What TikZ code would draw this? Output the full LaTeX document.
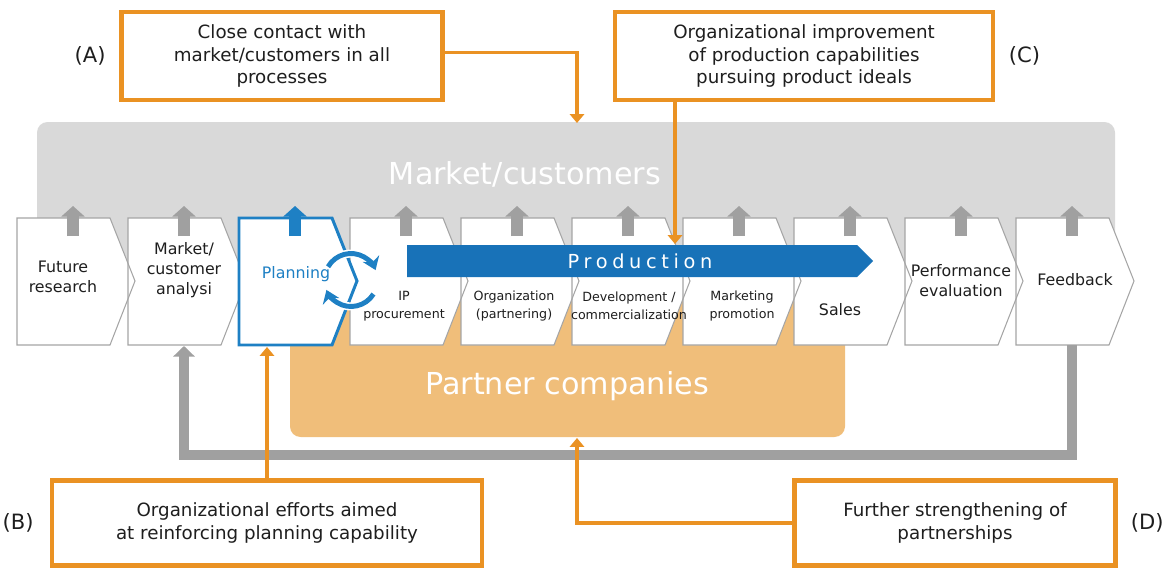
\documentclass[tikz,border=0pt]{standalone}
\usepackage{fontspec}
\setmainfont{DejaVu Sans}
\newfontfamily\spacedfont[LetterSpace=24]{DejaVu Sans}
\usetikzlibrary{arrows.meta, positioning}

\definecolor{mktgray}{RGB}{217,217,217}
\definecolor{edgegray}{RGB}{165,165,165}
\definecolor{arrgray}{RGB}{160,160,160}
\definecolor{txtgray}{RGB}{30,30,30}
\definecolor{prodblue}{RGB}{24,114,184}
\definecolor{planblue}{RGB}{30,128,196}
\definecolor{ochre}{RGB}{234,146,35}
\definecolor{partner}{RGB}{240,190,122}

\begin{document}
\begin{tikzpicture}[x=0.02cm, y=-0.02cm]
    \tikzset{
        stagetext/.style = {align=center, text=txtgray, font=\fontsize{9}{11.3}\selectfont},
        subtext/.style = {align=center, text=txtgray, font=\fontsize{7.2}{10.2}\selectfont},
        bigword/.style = {text=white, font=\fontsize{17.2}{20}\selectfont},
        goalbox/.style = {rectangle, draw=ochre, line width=2.6pt, fill=white, align=center, text=txtgray, font=\fontsize{10.4}{13}\selectfont},
        letter/.style = {text=txtgray, font=\fontsize{12}{14}\selectfont},
        link/.style = {draw=ochre, line width=2.2pt, -{Triangle[width=8pt,length=5pt]}},
        uparrow/.style = {draw=arrgray, line width=7pt, -{Triangle[width=13pt,length=6pt]}},
        backline/.style = {draw=arrgray, line width=5.5pt, -{Triangle[width=12pt,length=6pt]}},
        turn/.style = {draw=planblue, line width=2.8pt, -{Stealth[width=10pt,length=7pt]}}
    }

    \useasboundingbox (0,0) rectangle (1166,568);

    % market and partner areas
    \fill[mktgray, rounded corners=6pt] (37,122) rectangle (1115,265);
    \fill[partner, rounded corners=6pt] (290,275) rectangle (845,437);
    \node[bigword](mkt) at (525,174){Market/customers};
    \node[bigword](ptn) at (567,386){Partner companies};

    % process chevrons
    \foreach \i in {0,...,9}
        \fill[white] (17+111*\i,218) -- ++(93,0) -- ++(25,63) -- ++(-25,64) -- ++(-93,0) -- cycle;
    \foreach \i in {0,1,3,4,5,6,7,8,9}
        \draw[edgegray, line width=0.6pt] (17+111*\i,218) -- ++(93,0) -- ++(25,63) -- ++(-25,64) -- ++(-93,0) -- cycle;
    \draw[planblue, line width=1.7pt, fill=white] (239,218) -- ++(93,0) -- ++(25,63) -- ++(-25,64) -- ++(-93,0) -- cycle;

    % arrows up to the market
    \foreach \i in {0,1,3,4,5,6,7,8,9}
        \draw[uparrow] (73+111*\i,236) -- (73+111*\i,206);
    \draw[uparrow, draw=planblue] (295,236) -- (295,206);

    % production bar
    \fill[prodblue] (407,245) -- (857,245) -- (873,261) -- (857,277) -- (407,277) -- cycle;
    \node[text=white, font=\spacedfont\fontsize{11}{13}\selectfont](prod) at (640,261){Production};

    % planning cycle
    \coordinate (ctr) at (351,280);
    \draw[white, line width=4.6pt] (ctr) ++(150:0.53cm) arc[start angle=150, end angle=22, radius=0.53cm];
    \draw[white, line width=4.6pt] (ctr) ++(-32:0.53cm) arc[start angle=-32, end angle=-158, radius=0.53cm];
    \draw[turn] (ctr) ++(150:0.53cm) arc[start angle=150, end angle=22, radius=0.53cm];
    \draw[turn] (ctr) ++(-32:0.53cm) arc[start angle=-32, end angle=-158, radius=0.53cm];

    % stage names
    \node[stagetext](fut) at (63,277){Future\\research};
    \node[stagetext](mka) at (184,270){Market/\\customer\\analysi};
    \node[stagetext, text=planblue](plan) at (296,274){Planning};
    \node[subtext](ip) at (404,306){IP\\procurement};
    \node[subtext](org) at (514,306){Organization\\(partnering)};
    \node[subtext](dev) at (629,306){Development /\\commercialization};
    \node[subtext](prm) at (742,306){Marketing\\promotion};
    \node[stagetext](sal) at (840,310){Sales};
    \node[stagetext](perf) at (961,281){Performance\\evaluation};
    \node[stagetext](fdb) at (1075,280){Feedback};

    % loop back from feedback
    \coordinate (s1) at (184,346);
    \coordinate (s9) at (1072,345);
    \draw[backline] (s9) -- ++(0,110) -| (s1);

    % goals
    \node[goalbox, minimum width=6.42cm, minimum height=1.76cm](boxA) at (282,56){Close contact with\\market/customers in all\\processes};
    \node[goalbox, minimum width=7.56cm, minimum height=1.76cm](boxC) at (804,56){Organizational improvement\\of production capabilities\\pursuing product ideals};
    \node[goalbox, minimum width=8.6cm, minimum height=1.7cm](boxB) at (267,523){Organizational efforts aimed\\at reinforcing planning capability};
    \node[goalbox, minimum width=6.42cm, minimum height=1.7cm](boxD) at (955,523){Further strengthening of\\partnerships};

    \node[letter](tagA)[left=0.15cm of boxA]{(A)};
    \node[letter](tagC)[right=0.15cm of boxC]{(C)};
    \node[letter](tagB)[left=0.2cm of boxB]{(B)};
    \node[letter](tagD)[right=0.14cm of boxD]{(D)};

    \coordinate (mkttop) at (577,123);
    \coordinate (prodtop) at (675,244);
    \coordinate (planbot) at (267,347);
    \coordinate (ptnbot) at (577,438);

    \draw[link] ([yshift=2pt]boxA.east) -| (mkttop);
    \draw[link] (boxC.south -| prodtop) -- (prodtop);
    \draw[link] (boxB.north) -- (planbot);
    \draw[link] (boxD.west) -| (ptnbot);

\end{tikzpicture}
\end{document}
